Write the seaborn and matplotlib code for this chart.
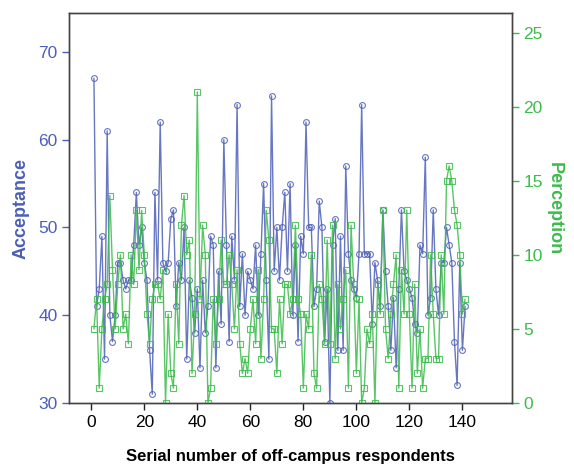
import seaborn as sns
import matplotlib.pyplot as plt
import numpy as np
import pandas as pd

serial = list(range(1, 142))
acceptance = [67, 41, 43, 49, 35, 61, 40, 37, 40, 46,
              46, 44, 43, 44, 44, 48, 54, 48, 50, 46,
              44, 36, 31, 54, 44, 62, 46, 45, 46, 51,
              52, 41, 46, 44, 50, 35, 44, 42, 38, 43,
              34, 44, 38, 41, 49, 48, 34, 45, 39, 60,
              48, 37, 49, 44, 64, 41, 47, 40, 45, 44,
              43, 48, 40, 47, 55, 44, 35, 65, 45, 50,
              44, 50, 54, 45, 55, 40, 48, 37, 49, 47,
              62, 50, 50, 41, 43, 53, 50, 37, 43, 30,
              48, 51, 36, 49, 36, 57, 47, 44, 43, 42,
              47, 64, 47, 47, 47, 39, 46, 44, 41, 52,
              45, 41, 36, 42, 34, 43, 52, 45, 44, 43,
              42, 39, 38, 48, 47, 58, 40, 42, 52, 43,
              40, 46, 46, 50, 48, 46, 37, 32, 46, 36,
              41]
perception = [5, 7, 1, 5, 7, 8, 14, 9, 5, 8,
              10, 5, 6, 4, 10, 8, 13, 9, 13, 10,
              6, 4, 7, 8, 8, 7, 9, 0, 6, 2,
              1, 8, 4, 12, 14, 10, 11, 2, 6, 21,
              7, 12, 10, 0, 1, 7, 4, 7, 11, 8,
              8, 10, 8, 5, 9, 4, 2, 3, 2, 5,
              7, 4, 9, 3, 7, 13, 11, 5, 5, 2,
              7, 4, 8, 8, 6, 7, 12, 7, 6, 1,
              6, 5, 10, 2, 1, 8, 7, 4, 11, 4,
              12, 3, 8, 5, 7, 9, 1, 12, 8, 2,
              7, 0, 1, 5, 4, 6, 0, 8, 6, 13,
              5, 3, 6, 8, 10, 1, 9, 6, 13, 6,
              1, 8, 2, 5, 1, 3, 3, 10, 6, 3,
              3, 10, 6, 15, 16, 15, 13, 12, 10, 6,
              7]

df = pd.DataFrame({'serial': serial, 'acceptance': acceptance, 'perception': perception})

blue = '#4d5fb6'
green = '#3dbb4c'

sns.set_style('white')
plt.rcParams['font.family'] = ['Liberation Sans', 'DejaVu Sans']

fig = plt.figure(figsize=(5.74, 4.68), dpi=100)
ax = fig.add_axes([0.1207, 0.1389, 0.7708, 0.8327])
ax2 = ax.twinx()

sns.lineplot(data=df, x='serial', y='acceptance', ax=ax, color=blue, linewidth=1.0,
             marker='o', markersize=4.2, markerfacecolor='none',
             markeredgecolor=blue, markeredgewidth=0.8, alpha=0.85)
sns.lineplot(data=df, x='serial', y='perception', ax=ax2, color=green, linewidth=1.0,
             marker='s', markersize=3.8, markerfacecolor='none',
             markeredgecolor=green, markeredgewidth=0.8, alpha=0.85)

ax.set_xlim(-8.3, 158.6)
ax.set_ylim(30, 74.4)
ax2.set_ylim(0, 26.3)
ax.set_xticks(range(0, 141, 20))
ax.set_yticks([30, 40, 50, 60, 70])
ax2.set_yticks([0, 5, 10, 15, 20, 25])

ax.set_xlabel('Serial number of off-campus respondents', fontsize=12, fontweight='bold',
              color='black', labelpad=14)
ax.set_ylabel('Acceptance', fontsize=13, fontweight='bold', color=blue, labelpad=6)
ax2.set_ylabel('Perception', fontsize=13, fontweight='bold', color=green, rotation=270, labelpad=14)

ax.tick_params(axis='x', direction='out', length=5, width=1, colors='#222222', labelsize=12.5, bottom=True)
ax.tick_params(axis='y', direction='out', length=5, width=1, colors=blue, labelsize=12.5, left=True)
ax2.tick_params(axis='y', direction='out', length=5, width=1, colors=green, labelsize=12.5, right=True)
ax.tick_params(axis='x', labelcolor='black')

for a in (ax, ax2):
    for s in a.spines.values():
        s.set_color('#444444')
        s.set_linewidth(1.0)

fig.savefig('out.png', dpi=100)
